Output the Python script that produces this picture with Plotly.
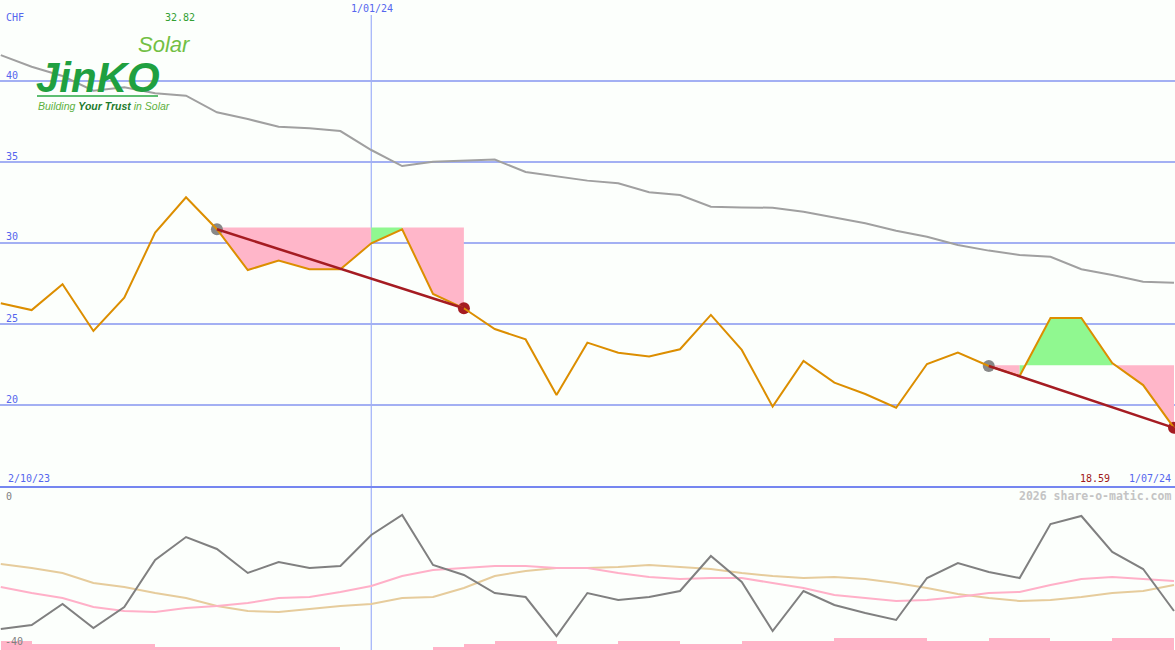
import plotly.graph_objects as go
import pandas as pd

W, H = 1175, 650

# ---------------- data ----------------
dates = pd.date_range("2023-10-09", periods=39, freq="7D")

price = [26.28, 25.86, 27.45, 24.57, 26.62, 30.64, 32.82, 30.85, 28.33, 28.91,
         28.38, 28.38, 29.98, 30.85, 26.85, 25.97, 24.69, 24.05, 20.62, 23.85,
         23.23, 22.99, 23.44, 25.56, 23.40, 19.90, 22.72, 21.38, 20.68, 19.83,
         22.53, 23.23, 22.41, 21.79, 25.37, 25.37, 22.59, 21.23, 18.59]

moving_avg = [41.60, 40.88, 40.31, 39.40, 39.61, 39.24, 39.09, 38.07, 37.65, 37.18,
              37.08, 36.91, 35.74, 34.75, 35.02, 35.08, 35.15, 34.38, 34.10, 33.85,
              33.69, 33.13, 32.96, 32.24, 32.19, 32.18, 31.93, 31.59, 31.22, 30.76,
              30.39, 29.88, 29.53, 29.26, 29.15, 28.38, 28.02, 27.61, 27.55]

osc_main = [-36.46, -35.37, -29.66, -36.19, -30.48, -17.69, -11.43, -14.69, -21.22, -18.23,
            -19.86, -19.32, -10.88, -5.44, -19.05, -21.77, -26.67, -27.76, -38.37, -26.67,
            -28.57, -27.76, -26.12, -16.60, -23.67, -37.01, -26.12, -29.93, -32.11, -34.01,
            -22.59, -18.50, -20.95, -22.59, -7.89, -5.71, -15.51, -20.14, -31.56]

osc_pink = [-25.03, -26.67, -28.03, -30.48, -31.56, -31.84, -30.75, -30.20, -29.39, -28.03,
            -27.76, -26.39, -24.76, -22.04, -20.41, -19.86, -19.32, -19.32, -19.86, -19.86,
            -21.22, -22.31, -22.86, -22.59, -22.59, -23.95, -25.31, -27.21, -28.03, -28.84,
            -28.57, -27.76, -26.67, -26.39, -24.49, -22.86, -22.31, -22.86, -23.40]

osc_tan = [-18.78, -19.86, -21.22, -23.95, -25.03, -26.67, -28.03, -30.20, -31.56, -31.84,
           -31.02, -30.20, -29.66, -28.03, -27.76, -25.31, -22.04, -20.68, -19.86, -19.86,
           -19.59, -19.05, -19.59, -20.14, -21.22, -22.04, -22.59, -22.31, -22.86, -23.95,
           -25.31, -26.94, -28.03, -28.84, -28.57, -27.76, -26.67, -26.12, -24.49]

vol_bars = [2.45, 1.63, 1.63, 1.63, 1.63, 0.78, 0.78, 0.78, 0.78, 0.78,
            0.78, 0.0, 0.0, 0.0, 0.82, 1.63, 2.45, 2.45, 1.63, 1.63,
            2.45, 2.45, 1.63, 1.63, 2.45, 2.45, 2.45, 3.27, 3.27, 3.27,
            2.45, 2.45, 3.27, 3.27, 2.45, 2.45, 3.27, 3.27]

y_ticks = [20, 25, 30, 35, 40]
y_tick_labels = ["20", "25", "30", "35", "40"]

trend_lines = [(7, 15), (32, 38)]          # start index, end index
fill_zones = [(7, 12, 30.95, "pink"), (12, 13, 30.95, "green"), (13, 15, 30.95, "pink"),
              (32, 33, 22.45, "pink"), (33, 36, 22.45, "green"), (36, 38, 22.45, "pink")]

max_label, min_label = "32.82", "18.59"
start_label, end_label, mid_label = "2/10/23", "1/07/24", "1/01/24"
mid_date = "2024-01-01"

# ---------------- styles ----------------
BG = "#fcfffc"
BLUE_TXT = "#5566ee"
GRID = "#a3b0f3"
SEP = "#7586f0"
ORANGE = "#dc8e00"
GRAYMA = "#a0a0a0"
DARKRED = "#a51c22"
PINK_FILL = "#ffb6c9"
GREEN_FILL = "#90f890"
MONO = "DejaVu Sans Mono"

# pixel geometry
main_bottom_px, lower_top_px = 487, 488
y_main_range = [40 - (main_bottom_px - 81) / 16.2, 40 + 81 / 16.2]
y_low_range = [-(H - 495) / 3.675, -(lower_top_px - 495) / 3.675]
x_start = dates[0] - pd.Timedelta(hours=4.3)
x_end = dates[-1] + pd.Timedelta(hours=5.5)


def px(x):
    return x / W


def py(y):
    return 1 - y / H


fig = go.Figure()

# fills
for i0, i1, lvl, col in fill_zones:
    xs = list(dates[i0:i1 + 1]) + list(dates[i0:i1 + 1])[::-1]
    ys = price[i0:i1 + 1] + [lvl] * (i1 - i0 + 1)
    fig.add_trace(go.Scatter(x=xs, y=ys, fill="toself", mode="lines",
                             line=dict(width=0),
                             fillcolor=PINK_FILL if col == "pink" else GREEN_FILL,
                             hoverinfo="skip", xaxis="x", yaxis="y"))

# moving average
fig.add_trace(go.Scatter(x=dates, y=moving_avg, mode="lines",
                         line=dict(color=GRAYMA, width=2), xaxis="x", yaxis="y"))

# trend dots
for i0, i1 in trend_lines:
    fig.add_trace(go.Scatter(x=[dates[i0]], y=[price[i0]], mode="markers",
                             marker=dict(size=12, color="#888888"), xaxis="x", yaxis="y"))
    fig.add_trace(go.Scatter(x=[dates[i1]], y=[price[i1]], mode="markers",
                             marker=dict(size=12, color=DARKRED), xaxis="x", yaxis="y"))

# price
fig.add_trace(go.Scatter(x=dates, y=price, mode="lines",
                         line=dict(color=ORANGE, width=2), xaxis="x", yaxis="y"))

# trend lines
for i0, i1 in trend_lines:
    fig.add_trace(go.Scatter(x=[dates[i0], dates[i1]], y=[price[i0], price[i1]],
                             mode="lines", line=dict(color=DARKRED, width=2.5),
                             xaxis="x", yaxis="y"))

# lower panel
fig.add_trace(go.Bar(x=dates[:len(vol_bars)], y=vol_bars, base=y_low_range[0],
                     width=7 * 86400000, offset=0,
                     marker=dict(color="#ffb4c8", line=dict(width=0)),
                     xaxis="x2", yaxis="y2"))
fig.add_trace(go.Scatter(x=dates, y=osc_tan, mode="lines",
                         line=dict(color="#e6cc9c", width=2), xaxis="x2", yaxis="y2"))
fig.add_trace(go.Scatter(x=dates, y=osc_pink, mode="lines",
                         line=dict(color="#ffb0c8", width=2), xaxis="x2", yaxis="y2"))
fig.add_trace(go.Scatter(x=dates, y=osc_main, mode="lines",
                         line=dict(color="#808080", width=2), xaxis="x2", yaxis="y2"))

shapes = [
    # logo backdrop hiding the grid line
    dict(type="rect", xref="paper", yref="paper", x0=px(35), x1=px(193), y0=py(114), y1=py(34),
         fillcolor=BG, line=dict(width=0), layer="between"),
    # separator
    dict(type="line", xref="paper", yref="paper", x0=0, x1=1, y0=py(487), y1=py(487),
         line=dict(color=SEP, width=2)),
    # mid-date vertical line
    dict(type="line", xref="x", yref="paper", x0=mid_date, x1=mid_date, y0=0, y1=py(15),
         line=dict(color="#9fb0f8", width=1.2), layer="between"),
    # logo underline
    dict(type="line", xref="paper", yref="paper", x0=px(37), x1=px(158), y0=py(96), y1=py(96),
         line=dict(color="#2aa845", width=1.5)),
]

ann = []


def txt(x, y, s, color, size=10, anchor="left", family=MONO, bold=False):
    ann.append(dict(x=px(x), y=py(y), xref="paper", yref="paper",
                    text=("<b>%s</b>" % s) if bold else s,
                    showarrow=False, xanchor=anchor, yanchor="middle",
                    font=dict(family=family, size=size, color=color)))


txt(4, 18, "CHF", BLUE_TXT)
txt(180, 18, max_label, "#33a033", anchor="center")
txt(372, 8, mid_label, BLUE_TXT, anchor="center")
for v, lab in zip(y_ticks, y_tick_labels):
    ypix = 81 + (40 - v) * 16.2
    txt(4, ypix - 6, lab, BLUE_TXT)
txt(6, 478, start_label, BLUE_TXT)
txt(1112, 478, min_label, "#a01818", anchor="right")
txt(1173, 478, end_label, BLUE_TXT, anchor="right")
txt(4, 496, "0", "#808080")
txt(3, 641, "-40", "#808080")
txt(1173, 496, "2026 share-o-matic.com", "#c4c4c4", size=11.5, anchor="right", bold=True)

# logo
ann.append(dict(x=px(193), y=py(45), xref="paper", yref="paper", text="<i>Solar</i>",
                showarrow=False, xanchor="right", yanchor="middle",
                font=dict(family="Liberation Sans", size=22, color="#72bf44")))
ann.append(dict(x=px(34), y=py(77), xref="paper", yref="paper", text="<b><i>JinKO</i></b>",
                showarrow=False, xanchor="left", yanchor="middle",
                font=dict(family="Liberation Sans", size=42, color="#1fa040")))
ann.append(dict(x=px(36), y=py(106), xref="paper", yref="paper",
                text="<i>Building <b><span style='color:#1d7a2c'>Your Trust</span></b> in Solar</i>",
                showarrow=False, xanchor="left", yanchor="middle",
                font=dict(family="Liberation Sans", size=10.5, color="#5cb040")))

fig.update_layout(
    width=W, height=H, autosize=False,
    margin=dict(l=0, r=0, t=0, b=0, pad=0),
    paper_bgcolor=BG, plot_bgcolor=BG,
    showlegend=False, bargap=0,
    xaxis=dict(domain=[0, 1], range=[x_start, x_end], type="date", visible=False,
               anchor="y"),
    xaxis2=dict(domain=[0, 1], range=[x_start, x_end], type="date", visible=False,
                anchor="y2", matches="x"),
    yaxis=dict(domain=[py(main_bottom_px), 1], range=y_main_range, tickvals=y_ticks,
               showticklabels=False, showgrid=True, gridcolor=GRID, gridwidth=2,
               zeroline=False, showline=False, ticks="", anchor="x"),
    yaxis2=dict(domain=[0, py(lower_top_px)], range=y_low_range, showgrid=False,
                showticklabels=False, zeroline=False, showline=False, ticks="", anchor="x2"),
    shapes=shapes, annotations=ann,
)

fig.write_html("out.html", config={"displayModeBar": False},
               post_script="document.body.style.margin='0';document.body.style.padding='0';"
                           "document.body.style.overflow='hidden';")
